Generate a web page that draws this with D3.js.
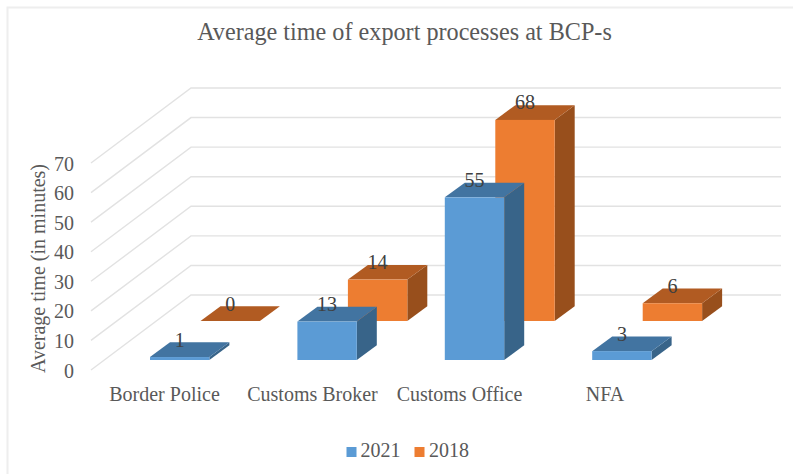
<!DOCTYPE html>
<html>
<head>
<meta charset="utf-8">
<script src="https://cdn.jsdelivr.net/npm/d3@7"></script>
<style>
  html, body { margin: 0; padding: 0; background: #fff; }
  svg { display: block; }
  text { font-family: "Liberation Serif", "Times New Roman", serif; fill: #595959; }
</style>
</head>
<body>
<svg id="chart" width="793" height="474"></svg>
<script>
// Chart content
const chartTitle = "Average time of export processes at BCP-s";
const axisTitle = "Average time (in minutes)";
const categories = ["Border Police", "Customs Broker", "Customs Office", "NFA"];
const seriesNames = ["2021", "2018"];
const values2021 = [1, 13, 55, 3];
const values2018 = [0, 14, 68, 6];
const yTicks = [0, 10, 20, 30, 40, 50, 60, 70];

const faceColors = {
  "2021": { front: "#5b9bd5", top: "#4274a1", side: "#386489" },
  "2018": { front: "#ed7d31", top: "#b15b22", side: "#984f1c" }
};

const svg = d3.select("#chart");

// Oblique projection: category along x, value up, series into the depth
const x = d3.scaleBand().domain(categories).range([150, 651.6]).paddingInner(0.597);
const y = d3.scaleLinear().domain([0, 70]).range([0, -207]);
const depth = d3.scaleLinear().domain([0, 1]).range([0, 1]);

const wallDepth = { dx: 100, dy: -75 };   // floor corner, front to back
const floor = { x: 91, y: 370, right: 781 };
const seriesOffset = { dx: 50.5, dy: -39 }; // one series step into the depth
const barDepth = { dx: 20, dy: -14.7 };     // thickness of a bar

function project(xPos, value, d) {
  return [
    xPos + seriesOffset.dx * depth(d),
    360 + y(value) + seriesOffset.dy * depth(d)
  ];
}
const poly = pts => pts.map(p => p.join(",")).join(" ");

// Outer frame
svg.append("path")
  .attr("d", "M7.5,474V7.5H793")
  .attr("fill", "none").attr("stroke", "#eeeeee").attr("stroke-width", 2);

// Title
svg.append("text")
  .attr("x", 404.5).attr("y", 39.5)
  .attr("text-anchor", "middle")
  .attr("font-size", 24.2)
  .text(chartTitle);

// Gridlines on the side wall and back wall
const grid = svg.append("g").attr("fill", "none").attr("stroke", "#e2e2e2").attr("stroke-width", 1.4);
grid.selectAll("polyline").data(yTicks).join("polyline")
  .attr("points", t => {
    const y0 = floor.y + y(t);
    return poly([
      [floor.x, y0],
      [floor.x + wallDepth.dx, y0 + wallDepth.dy],
      [floor.right, y0 + wallDepth.dy]
    ]);
  });

// Value axis labels
svg.append("g").selectAll("text").data(yTicks).join("text")
  .attr("x", 74).attr("y", t => floor.y + y(t) + 7.5)
  .attr("text-anchor", "end")
  .attr("font-size", 20)
  .text(t => t);

svg.append("text")
  .attr("transform", "translate(45,268.5) rotate(-90)")
  .attr("text-anchor", "middle")
  .attr("font-size", 20)
  .text(axisTitle);

// Category labels
const categoryLabelX = [164.5, 312.5, 459.5, 605];
svg.append("g").selectAll("text").data(categories).join("text")
  .attr("x", (c, i) => categoryLabelX[i])
  .attr("y", 401)
  .attr("text-anchor", "middle")
  .attr("font-size", 20)
  .text(c => c);

// Bars, back series first so the front series overlaps it
function drawBar(g, xPos, value, d, colors) {
  const w = x.bandwidth();
  const [lx, by] = project(xPos, 0, d);
  const ty = project(xPos, value, d)[1];
  const rx = lx + w;
  const { dx, dy } = barDepth;
  g.append("polygon").attr("fill", colors.side)
    .attr("points", poly([[rx, by], [rx + dx, by + dy], [rx + dx, ty + dy], [rx, ty]]));
  g.append("polygon").attr("fill", colors.top)
    .attr("points", poly([[lx, ty], [lx + dx, ty + dy], [rx + dx, ty + dy], [rx, ty]]));
  if (value > 0) {
    g.append("rect").attr("fill", colors.front)
      .attr("x", lx).attr("y", ty).attr("width", w).attr("height", by - ty);
  }
}

const seriesData = [
  { name: seriesNames[1], values: values2018, d: 1 },
  { name: seriesNames[0], values: values2021, d: 0 }
];

const bars = svg.append("g");
const labels = [];

// Bars are painted per series so that the nearer row covers the farther one
seriesData.forEach(s => {
  const g = bars.append("g");
  categories.forEach((c, i) => {
    drawBar(g, x(c), s.values[i], s.d, faceColors[s.name]);
    const [lx, ty] = project(x(c), s.values[i], s.d);
    labels.push({ x: lx + x.bandwidth() / 2, y: ty - 10.5, text: s.values[i] });
  });
});

// Value labels above each bar
svg.append("g").selectAll("text").data(labels).join("text")
  .attr("x", d => d.x).attr("y", d => d.y)
  .attr("text-anchor", "middle")
  .attr("font-size", 20)
  .style("fill", "#404040")
  .text(d => d.text);

// Legend
const legendItems = [
  { name: seriesNames[0], swatch: 346.5, label: 360.5 },
  { name: seriesNames[1], swatch: 414.5, label: 429 }
];
const legend = svg.append("g").selectAll("g").data(legendItems).join("g");
legend.append("rect")
  .attr("x", d => d.swatch).attr("y", 447)
  .attr("width", 10).attr("height", 10)
  .attr("fill", d => faceColors[d.name].front);
legend.append("text")
  .attr("x", d => d.label).attr("y", 456.5)
  .attr("font-size", 20)
  .text(d => d.name);
</script>
</body>
</html>
